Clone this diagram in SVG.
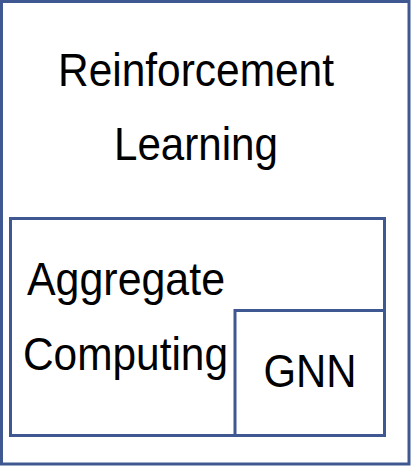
<svg xmlns="http://www.w3.org/2000/svg" width="412" height="466" viewBox="0 0 412 466">
<style>
.box{fill:none;stroke:#3F5891;stroke-width:3}
.lbl{font-family:"Liberation Sans",Arial,sans-serif;font-size:46px;fill:#000}
</style>
<rect x="0" y="0" width="412" height="466" fill="#fff"/>
<g id="rl">
<rect class="box" x="1.5" y="1.5" width="407.5" height="462.5"/>
<text class="lbl" x="58" y="85.5" textLength="276" lengthAdjust="spacingAndGlyphs">Reinforcement</text>
<text class="lbl" x="114" y="160" textLength="164" lengthAdjust="spacingAndGlyphs">Learning</text>
</g>
<g id="ac">
<rect class="box" x="10.5" y="218.5" width="374" height="217"/>
<text class="lbl" x="27" y="295" textLength="198" lengthAdjust="spacingAndGlyphs">Aggregate</text>
<text class="lbl" x="23" y="370" textLength="205" lengthAdjust="spacingAndGlyphs">Computing</text>
</g>
<g id="gnn">
<rect class="box" x="235" y="310.5" width="149.5" height="125"/>
<text class="lbl" x="263.5" y="387" textLength="93" lengthAdjust="spacingAndGlyphs">GNN</text>
</g>
<g id="connectors"></g>
</svg>
